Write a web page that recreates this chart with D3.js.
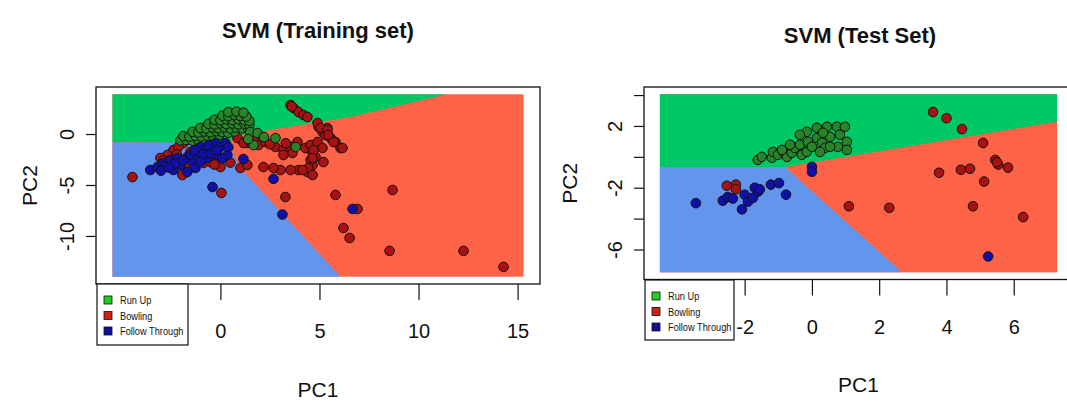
<!DOCTYPE html>
<html>
<head>
<meta charset="utf-8">
<script src="https://cdn.jsdelivr.net/npm/d3@7"></script>
<style>
  html, body { margin: 0; padding: 0; background: #fff; }
  svg text { font-family: "Liberation Sans", Arial, Helvetica, sans-serif; fill: #111; }
</style>
</head>
<body>
<svg id="chart" width="1067" height="405"></svg>
<script>
// ---- class labels and colours ----
const classNames = ["Run Up", "Bowling", "Follow Through"];
const regionColors = ["#00C864", "#FF6347", "#6495ED"];
const pointColors = ["#278527", "#A81212", "#1010A8"];
const legendColors = ["#1FCC1F", "#CC2214", "#10109A"];

// ---- training set (PC1, PC2) ----
const trainRunUp = [
  [-2.02,-0.62],[-1.72,-0.58],[-1.41,-0.66],[-1.11,-0.6],[-0.81,-0.55],
  [-1.87,-0.2],[-1.57,-0.25],[-1.26,-0.18],[-0.96,-0.22],[-0.66,-0.15],[-0.35,-0.24],[-0.05,-0.1],
  [-1.41,0.22],[-1.11,0.15],[-0.81,0.25],[-0.51,0.18],[-0.2,0.28],[0.1,0.2],[0.4,0.12],[0.71,0.25],
  [-1.01,0.6],[-0.71,0.55],[-0.4,0.65],[-0.1,0.58],[0.2,0.66],[0.51,0.55],[0.81,0.62],[1.11,0.55],[1.41,0.5],
  [-0.61,1.0],[-0.3,0.95],[0,1.05],[0.3,0.98],[0.61,1.04],[0.91,0.95],[1.21,1.02],[1.46,0.9],
  [-0.3,1.4],[0,1.35],[0.3,1.45],[0.61,1.38],[0.91,1.45],[1.21,1.35],[1.46,1.3],
  [0.1,1.8],[0.4,1.75],[0.71,1.85],[1.01,1.78],[1.31,1.72],
  [0.4,2.15],[0.81,2.2],[1.16,2.1],
  [1.5,0.2],[1.87,0.1],[1.67,-1.08],[2.78,-0.4],[3.8,-1.27],[1.4,-0.5],[2.2,-0.3]
];
const trainBowling = [
  [-1.87,-0.88],[-1.52,-1.76],[-2.37,-1.57],[-2.68,-2.06],[-0.86,-2.84],[-0.51,-2.75],[0,-3.24],
  [-1.92,-4.02],[0.86,-0.39],[1.36,-0.88],[1.01,-3.33],[-2.12,-1.27],[-3.03,-2.35],[-1.21,-1.08],
  [-2.9,-2.6],[-2.2,-2.0],[-0.3,-3.0],[0.5,-2.8],[-1.6,-3.1],[-4.44,-4.22],[0.05,-5.78],
  [3.54,2.84],[3.69,2.55],[3.94,2.16],[4.19,1.86],[4.39,1.67],[3.6,2.7],
  [1.16,-0.88],[1.41,-0.59],[1.92,-1.08],[2.27,-0.78],[2.78,-1.27],[3.18,-1.57],[3.54,-1.27],
  [3.64,-1.86],[3.89,-0.78],[4.29,-1.37],[4.55,-1.08],[4.65,-1.86],[4.9,-0.78],[4.95,0.69],
  [5.15,0.2],[5.3,-0.1],[5.4,0.59],[5.56,-0.39],[5.81,-0.78],[6.06,-1.37],[5.15,-1.37],
  [4.8,-2.25],[5.2,-2.75],[4.65,-3.04],[4.39,-3.73],[3.94,-3.53],[3.54,-3.53],[3.03,-3.53],
  [2.68,-3.33],[2.17,-3.24],[1.36,-3.04],[3.18,-2.06],[4.55,-2.55],[4.9,1.08],[5.05,0.59],
  [5.4,0.39],[5.45,-0.1],[5.71,-0.78],[6.16,-1.37],[4.7,-1.57],[4.65,-2.35],[4.44,-3.33],
  [4.65,-4.02],[4.14,-3.53],[1.7,-0.4],[2.5,-1.0],[3.3,-0.9],
  [3.28,-6.18],[5.81,-5.98],[8.69,-5.49],[6.92,-7.35],[6.21,-9.22],[6.52,-10.2],
  [8.54,-11.47],[12.27,-11.47],[14.29,-13.04]
];
const trainFollow = [
  [-3.54,-3.53],[-3.18,-3.24],[-2.88,-2.84],[-2.53,-2.55],[-2.17,-2.35],[-2.02,-3.04],[-1.67,-2.25],
  [-1.41,-2.75],[-1.16,-2.06],[-1.01,-1.27],[-0.76,-1.57],[-0.4,-1.37],[-0.25,-0.88],[0,-1.27],
  [0.25,-0.88],[-0.66,-2.35],[-1.26,-3.33],[-1.67,-3.73],[0.35,-2.06],[-0.15,-2.06],[-2.37,-3.53],
  [-2.8,-3.2],[-2.3,-2.9],[-1.9,-2.6],[-1.5,-2.0],[-0.9,-2.0],[-0.5,-1.9],[-0.2,-1.6],[0.1,-2.4],
  [-3.0,-3.6],[-2.6,-3.3],[-1.0,-2.7],[-0.6,-1.1],[0.4,-1.3],[-1.3,-1.6],
  [-0.4,-5.2],[1.16,-2.45],[2.68,-4.4],[3.13,-7.9],[6.67,-7.35]
];

// ---- test set (PC1, PC2) ----
const testRunUp = [
  [-1.61,-0.19],[-1.49,0],[-1.19,-0.06],[-1.16,0.32],[-1.01,0.13],[-0.86,0.32],[-0.74,0],
  [-0.6,0.26],[-0.51,0.58],[-0.36,0.78],[-0.3,0.13],[-0.15,0.32],[-0.12,0.97],[0,0.65],
  [-0.15,1.62],[0.15,1.88],[0.15,1.23],[0.3,0.91],[0.39,0.58],[0.45,1.95],[0.54,1.3],
  [0.74,1.95],[0.77,0.65],[0.83,1.43],[0.98,1.95],[1.04,0.97],[1.04,0.45],[0.33,1.56],
  [0.24,0.32],[-0.36,1.43],[-0.65,0.78],[-0.89,0.45],[0.54,0.65]
];
const testBowling = [
  [-2.53,-1.87],[-2.26,-1.8],[-2.26,-2.1],[1.1,-3.2],[2.3,-3.3],[3.6,2.9],[4.0,2.5],[4.46,1.8],
  [5.09,0.9],[5.45,-0.2],[5.54,-0.5],[5.83,-0.7],[3.78,-1.03],[4.43,-0.84],[4.7,-0.77],
  [5.12,-1.6],[4.79,-3.2],[6.28,-3.9],[5.5,-0.35]
];
const testFollow = [
  [0,-0.65],[0,-0.97],[-3.45,-3.0],[-2.65,-2.84],[-2.5,-2.6],[-2.35,-2.7],[-2.08,-3.4],
  [-2.0,-2.45],[-1.9,-2.9],[-1.75,-2.65],[-1.7,-2.0],[-1.6,-2.25],[-1.55,-2.1],[-1.22,-1.8],
  [-0.98,-1.7],[-0.77,-2.45],[5.24,-6.45]
];

// ---- decision-region grid extents and boundaries (PC1, PC2) ----
const trainGridX = [-5.45, 15.3];
const trainGridY = [-14.0, 3.9];
const trainGreenRegion = [[-5.45,3.9],[11.46,3.9],[6.57,1.67],[4.04,0.88],[1.01,-0.1],[0.35,-0.88],[-5.45,-0.8]];
const trainBlueRegion = [[-5.45,-0.8],[0.35,-0.88],[1.01,-3.33],[6.06,-14.0],[-5.45,-14.0]];

const testGridX = [-4.52, 7.29];
const testGridY = [-7.48, 4.06];
const testGreenRegion = [[-4.52,4.06],[7.29,4.06],[7.29,2.27],[-0.8,-0.65],[-4.52,-0.65]];
const testBlueRegion = [[-4.52,-0.65],[-0.8,-0.65],[2.68,-7.48],[-4.52,-7.48]];

// ---- axis ticks (those lying under the legend are omitted) ----
const trainXTicks = [0, 5, 10, 15];
const trainYTicks = [-10, -5, 0];
const testXTicks = [-2, 0, 2, 4, 6];
const testYTicks = [-6, -4, -2, 0, 2, 4];
const testYShown = [-6, -2, 2];

const svg = d3.select("#chart");
svg.append("rect").attr("width", 1067).attr("height", 405).attr("fill", "#fff");

function pad(ext) {
  const d = (ext[1] - ext[0]) * 0.04;
  return [ext[0] - d, ext[1] + d];
}

const fmt = d => d < 0 ? "-" + Math.abs(d) : String(d);

function drawPanel(p) {
  const g = svg.append("g");
  const x = d3.scaleLinear().domain(pad(p.gridX)).range([p.left, p.right]);
  const y = d3.scaleLinear().domain(pad(p.gridY)).range([p.bottom, p.top]);
  const line = d3.line().x(d => x(d[0])).y(d => y(d[1]));

  // decision regions
  g.append("rect")
    .attr("x", x(p.gridX[0])).attr("y", y(p.gridY[1]))
    .attr("width", x(p.gridX[1]) - x(p.gridX[0]))
    .attr("height", y(p.gridY[0]) - y(p.gridY[1]))
    .attr("fill", regionColors[1]);
  g.append("path").attr("d", line(p.green) + "Z").attr("fill", regionColors[0]);
  g.append("path").attr("d", line(p.blue) + "Z").attr("fill", regionColors[2]);

  // observations
  [[p.pts[1], 1], [p.pts[0], 0], [p.pts[2], 2]].forEach(([pts, k]) => {
    g.selectAll(null).data(pts).enter().append("circle")
      .attr("cx", d => x(d[0])).attr("cy", d => y(d[1]))
      .attr("r", 4.8)
      .attr("fill", pointColors[k])
      .attr("stroke", "#111").attr("stroke-width", 1);
  });

  // frame
  g.append("rect")
    .attr("x", p.left).attr("y", p.top)
    .attr("width", p.right - p.left).attr("height", p.bottom - p.top)
    .attr("fill", "none").attr("stroke", "#111").attr("stroke-width", 1.3);

  // x axis
  const xa = g.append("g").attr("transform", `translate(0,${p.bottom})`)
    .call(d3.axisBottom(x).tickValues(p.xTicks).tickSize(16).tickFormat(fmt));
  xa.select(".domain").remove();
  xa.selectAll("line").attr("stroke", "#111").attr("stroke-width", 1.2);
  xa.selectAll("text").attr("y", 54).attr("dy", 0)
    .attr("font-size", 20).attr("fill", "#111");

  // y axis
  const ya = g.append("g").attr("transform", `translate(${p.left},0)`)
    .call(d3.axisLeft(y).tickValues(p.yTicks).tickSize(10)
      .tickFormat(d => p.yShown.includes(d) ? fmt(d) : ""));
  ya.select(".domain").remove();
  ya.selectAll("line").attr("stroke", "#111").attr("stroke-width", 1.2);
  ya.selectAll("text")
    .attr("x", 0).attr("y", 0).attr("dy", 0).attr("text-anchor", "middle")
    .attr("font-size", 20).attr("fill", "#111")
    .attr("transform", "translate(-22,0) rotate(-90)");

  // titles
  svg.append("text").attr("x", p.titleX).attr("y", p.titleY)
    .attr("text-anchor", "middle").attr("font-size", 22).attr("font-weight", "bold")
    .text(p.title);
  svg.append("text").attr("x", (p.left + p.right) / 2).attr("y", p.xlabY)
    .attr("text-anchor", "middle").attr("font-size", 21).text("PC1");
  svg.append("text")
    .attr("transform", `translate(${p.ylabX},${(p.top + p.bottom) / 2}) rotate(-90)`)
    .attr("text-anchor", "middle").attr("font-size", 21).text("PC2");

  // legend
  const L = p.legend;
  const lg = svg.append("g").attr("transform", `translate(${L.x},${L.y})`);
  lg.append("rect").attr("width", L.w).attr("height", L.h)
    .attr("fill", "#fff").attr("stroke", "#111").attr("stroke-width", 1.2);
  classNames.forEach((name, i) => {
    const cy = 16 + i * 15.5;
    lg.append("rect").attr("x", 7).attr("y", cy - 4).attr("width", 8).attr("height", 8)
      .attr("fill", legendColors[i]).attr("stroke", "#111").attr("stroke-width", 0.8);
    lg.append("text").attr("transform", `translate(23,${cy + 4}) scale(0.84,1)`)
      .attr("font-size", 11).text(name);
  });
}

drawPanel({
  gridX: trainGridX, gridY: trainGridY, green: trainGreenRegion, blue: trainBlueRegion,
  pts: [trainRunUp, trainBowling, trainFollow],
  left: 96, right: 540, top: 87, bottom: 284,
  xTicks: trainXTicks, yTicks: trainYTicks, yShown: trainYTicks,
  title: "SVM (Training set)", titleX: 318, titleY: 38, xlabY: 397, ylabX: 37,
  legend: { x: 97, y: 284, w: 91, h: 61 }
});

drawPanel({
  gridX: testGridX, gridY: testGridY, green: testGreenRegion, blue: testBlueRegion,
  pts: [testRunUp, testBowling, testFollow],
  left: 644, right: 1073, top: 87, bottom: 279.5,
  xTicks: testXTicks, yTicks: testYTicks, yShown: testYShown,
  title: "SVM (Test Set)", titleX: 860, titleY: 43, xlabY: 392, ylabX: 577,
  legend: { x: 645, y: 280, w: 89, h: 60 }
});
</script>
</body>
</html>
